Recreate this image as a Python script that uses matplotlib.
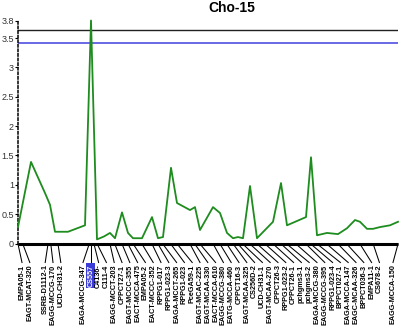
import numpy as np
import matplotlib.pyplot as plt

plt.rcParams['font.family'] = ['Liberation Sans', 'DejaVu Sans']

title = 'Cho-15'

# LOD profile (position in cM, LOD)
pos_cm = [0, 3.25, 6.75, 8, 9.25, 12.5, 16.75, 18.25, 19.75, 21.5, 23, 24.25, 26,
          27.5, 28.75, 31, 33.5, 35, 36.25, 38.25, 39.75, 43, 44.25, 45.5, 48.75,
          50.5, 52.25, 53.75, 55, 56.25, 58, 59.75, 63.75, 65.75, 67.25, 72,
          73.25, 74.75, 77.25, 80, 82.25, 84.25, 85.5, 87.25, 88.75, 90.5, 93, 95]
lod = [0.28, 1.39, 0.86, 0.66, 0.2, 0.2, 0.31, 3.8, 0.07, 0.12, 0.18, 0.09, 0.53,
       0.18, 0.09, 0.09, 0.45, 0.09, 0.11, 1.29, 0.69, 0.57, 0.62, 0.23, 0.62,
       0.52, 0.18, 0.09, 0.11, 0.09, 0.98, 0.09, 0.37, 1.03, 0.31, 0.45,
       1.47, 0.14, 0.18, 0.16, 0.26, 0.4, 0.37, 0.25, 0.25, 0.28, 0.31, 0.37]

# thresholds
thr_black = 3.64
thr_blue = 3.42

markers = ['EMPA05-1', 'EAGT-MCAT-320', 'SSRB-D1112-1', 'EAGG-MCCG-170', 'UCD-CH31-2',
           'EAGA-MCCG-347', 'CS557', 'C4136-', 'C111-4', 'EAGG-MCCT-203', 'CPPCT27-1',
           'EAGT-MCCC-355', 'EACT-MCCA-475', 'EMPA05-2', 'EACT-MCCC-352', 'RPPG1-017',
           'RPPG1-023-3', 'EAGA-MCCT-265', 'RPPG1-023', 'PceGA59-1', 'EAGT-MCAC-225',
           'EAGT-MCAA-330', 'EACT-MCCA-610', 'EAGG-MCCG-380', 'EATG-MCCA-460',
           'CPPCT16-3', 'EAGT-MCAA-325', 'CS256D-2', 'UCD-CH31-1', 'EAGT-MCAA-270',
           'CPPCT26-3', 'RPPG1-023-2', 'CPPCT26-1', 'pchgms3-1', 'pchgms3-2',
           'EAGA-MCCG-380', 'EAGG-MCCG-395', 'RPPG1-023-4', 'BPPCT027-1',
           'EAGA-MCCA-147', 'EAGC-MCAA-326', 'BPPCT036-3', 'EMPA11-1', 'CS678-2',
           'EAGG-MCCA-150']
marker_cm = [0, 1.2, 7.5, 8.2, 10, 17.8, 18.2, 19, 19.8, 23, 24.2, 26, 27.5, 28.8,
             31, 33.5, 35, 36.2, 38.2, 39.8, 43, 44.2, 45.5, 48.8, 50.5, 52.2, 53.8,
             55, 56.2, 58, 59.8, 61.8, 63.8, 65.8, 67.2, 69.5, 72, 73.2, 74.8, 77.2,
             80, 82.2, 85.5, 88.8, 95]
highlight = 'CS557'


def spread(pos, gap, lo, hi):
    # merge overlapping labels into groups centred on their markers
    groups = [[i, i] for i in range(len(pos))]

    def place(g):
        n = g[1] - g[0] + 1
        c = (pos[g[0]] + pos[g[1]]) / 2
        half = (n - 1) / 2 * gap
        c = min(max(c, lo + half), hi - half)
        return [c - half + k * gap for k in range(n)]

    while True:
        merged = False
        for k in range(len(groups) - 1):
            a, b = place(groups[k]), place(groups[k + 1])
            if b[0] - a[-1] < gap - 1e-9:
                groups[k] = [groups[k][0], groups[k + 1][1]]
                del groups[k + 1]
                merged = True
                break
        if not merged:
            break
    out = []
    for g in groups:
        out += place(g)
    return out


fig = plt.figure(figsize=(4, 3.27), dpi=100)
ax = fig.add_axes([0.045, 1 - 243.5 / 327, 0.95, 223 / 327])
ax.plot(pos_cm, lod, color='#1e8c1e', lw=1.3, clip_on=False, zorder=3)
ax.axhline(thr_black, color='#222222', lw=1)
ax.axhline(thr_blue, color='#4040e0', lw=1.1)
ax.set_xlim(0, 95)
ax.set_ylim(0, 3.8)
ax.set_yticks([0, 0.5, 1, 1.5, 2, 2.5, 3, 3.5, 3.8])
ax.set_yticklabels(['0', '0.5', '1', '1.5', '2', '2.5', '3', '3.5', '3.8'])
ax.tick_params(axis='y', labelsize=6.5, labelcolor='#333333', length=2, width=0.8, pad=1)
ax.set_xticks([])
for s in ['top', 'right', 'bottom']:
    ax.spines[s].set_visible(False)
ax.spines['left'].set_linestyle((0, (1.5, 1.5)))
ax.spines['left'].set_linewidth(1.1)
ax.text(232 / 400, 1 - 8 / 327, title, transform=fig.transFigure, ha='center',
        va='center', fontsize=10, fontweight='bold')

# marker axis and labels
lab = fig.add_axes([0.045, 0, 0.95, 1 - 243.5 / 327])
lab.set_xlim(0, 95)
lab.set_ylim(83.5, 0)
lab.axis('off')
lab.plot([0, 95], [0, 0], color='black', lw=2.2, clip_on=False, solid_capstyle='butt')
label_x = spread(marker_cm, 1.95, 1.0, 93.75)
for name, m, lx in zip(markers, marker_cm, label_x):
    lab.plot([m, lx], [0.5, 19], color='black', lw=0.75, clip_on=False)
    if name == highlight:
        lab.text(lx, 21, name, rotation=90, ha='center', va='top', fontsize=5.2,
                 fontweight='bold', color='white',
                 bbox=dict(boxstyle='square,pad=0.15', fc='#3b3bd8', ec='none'))
    else:
        lab.text(lx, 21, name, rotation=90, ha='center', va='top', fontsize=5.2,
                 fontweight='bold', color='black')

fig.savefig('out.png', dpi=100)
